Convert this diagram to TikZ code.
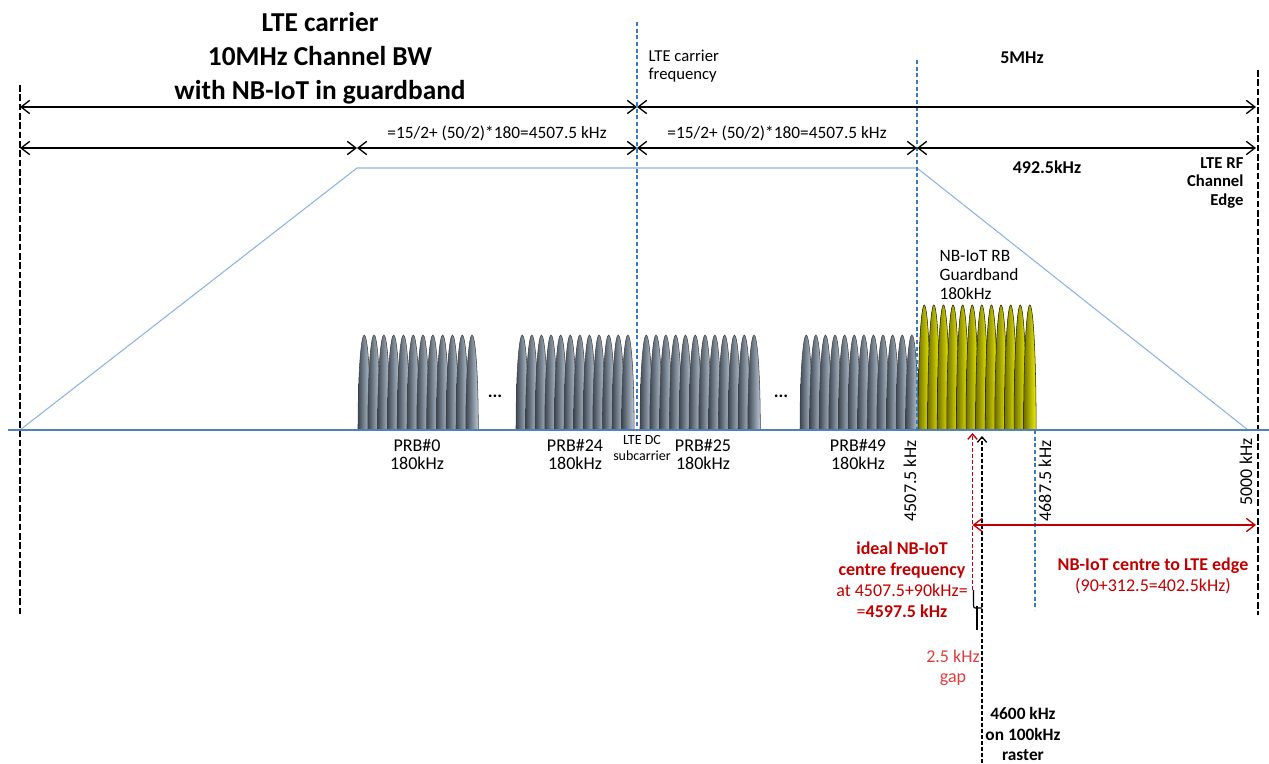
\documentclass[tikz,border=0pt]{standalone}
\usepackage{fontspec}
\setmainfont{Carlito}
\usetikzlibrary{arrows.meta,positioning}

\definecolor{ltered}{HTML}{C00000}
\definecolor{gapred}{HTML}{E03C3C}
\definecolor{dashblue}{HTML}{3A78C2}
\definecolor{trapblue}{HTML}{8DB3E2}
\definecolor{axisblue}{HTML}{4F81BD}
\definecolor{greydark}{HTML}{3E4752}
\definecolor{greylight}{HTML}{BCCAD8}
\definecolor{yeldark}{HTML}{6E6E00}
\definecolor{yellight}{HTML}{F2F200}

\begin{document}
\begin{tikzpicture}[x=0.75pt, y=-0.75pt,
  every node/.style={inner sep=1pt, font=\fontsize{13}{15}\selectfont},
  dimarrow/.style={{Straight Barb[length=6.5pt,width=10pt]}-{Straight Barb[length=6.5pt,width=10pt]}, line width=1pt},
  redarrow/.style={{Straight Barb[length=6.5pt,width=10pt]}-{Straight Barb[length=6.5pt,width=10pt]}, line width=1pt, ltered},
  uparrow/.style={-{Straight Barb[length=4pt,width=7pt]}, line width=1pt, dash pattern=on 3pt off 1.5pt},
  edgeline/.style={line width=2.2pt, dash pattern=on 5pt off 2pt},
  bluedash/.style={dashblue, line width=0.9pt, dash pattern=on 3pt off 2pt},
  trap/.style={trapblue, line width=0.8pt},
  axisline/.style={axisblue, line width=1pt},
  greybump/.style={left color=greydark, right color=greylight, draw=black!75, line width=0.4pt},
  yelbump/.style={left color=yeldark, right color=yellight, draw=black!70!yeldark, line width=0.4pt},
  bold/.style={font=\fontsize{13.5}{16}\selectfont\bfseries},
  prblbl/.style={align=center, font=\fontsize{13.5}{13.5}\selectfont}
]
\useasboundingbox (0,0) rectangle (1269,763);

% -------- channel edges --------
\coordinate (edgeLtop) at (20,85);
\coordinate (edgeLbot) at (20,615);
\coordinate (edgeRtop) at (1258,70);
\coordinate (edgeRbot) at (1258,615);
\draw[edgeline] (edgeLtop) -- (edgeLbot);
\draw[edgeline] (edgeRtop) -- (edgeRbot);

% -------- trapezoid (spectrum mask) --------
\coordinate (tA) at (20,430);
\coordinate (tB) at (357,168);
\coordinate (tC) at (917,168);
\coordinate (tD) at (1248,430);
\draw[trap] (tA) -- (tB) -- (tC) -- (tD);

% -------- subcarriers --------
\foreach \xs/\dx in {358/9.8, 516/9.6, 640/9.8, 800/9.6} {
  \foreach \i in {0,...,11} {
    \pgfmathsetmacro\xa{\xs+\i*\dx}
    \path[greybump] (\xa,430) .. controls (\xa,370) and (\xa+3.2,335) .. (\xa+6.25,335)
      .. controls (\xa+9.3,335) and (\xa+12.5,370) .. (\xa+12.5,430) -- cycle;
  }
}
\foreach \i in {0,...,11} {
  \pgfmathsetmacro\xa{918+\i*9.6}
  \path[yelbump] (\xa,430) .. controls (\xa,350) and (\xa+3.2,305) .. (\xa+6.25,305)
    .. controls (\xa+9.3,305) and (\xa+12.5,350) .. (\xa+12.5,430) -- cycle;
}
\node[bold] (dots1) at (495,396) {...};
\node[bold] (dots2) at (781,396) {...};

% -------- frequency axis --------
\coordinate (axL) at (8,430);
\coordinate (axR) at (1269,430);
\draw[axisline] (axL) -- (axR);

% -------- blue markers --------
\coordinate (fcTop) at (637,22);
\coordinate (fcBot) at (637,428);
\coordinate (gbTop) at (917,60);
\coordinate (gbBot) at (917,430);
\coordinate (nbTop) at (1035,430);
\coordinate (nbBot) at (1035,610);
\draw[bluedash] (fcTop) -- (fcBot);
\draw[bluedash] (gbTop) -- (gbBot);
\draw[bluedash] (nbTop) -- (nbBot);

% -------- dimension arrows --------
\coordinate (r1L) at (20,107);
\coordinate (r1C) at (637,107);
\coordinate (r1R) at (1256,107);
\draw[dimarrow] (r1L) -- (r1C);
\draw[dimarrow] (r1C) -- (r1R);

\coordinate (r2L) at (20,148);
\coordinate (r2A) at (357,148);
\coordinate (r2C) at (637,148);
\coordinate (r2B) at (917,148);
\coordinate (r2R) at (1256,148);
\draw[dimarrow] (r2L) -- (r2A);
\draw[dimarrow] (r2A) -- (r2C);
\draw[dimarrow] (r2C) -- (r2B);
\draw[dimarrow] (r2B) -- (r2R);

% -------- top labels --------
\node[font=\fontsize{20.5}{25.5}\selectfont\bfseries, align=center] (title) at (320,58)
  {LTE carrier\\10MHz Channel BW\\with NB-IoT in guardband};
\node[anchor=west, align=left, font=\fontsize{12.5}{13.5}\selectfont] (fclbl) at (647,66)
  {LTE carrier\\frequency};
\node[bold] (bw5) at (1022,58) {5MHz};
\node (half1) at (497,133) {=15/2+ (50/2)*180=4507.5 kHz};
\node (half2) at (777,133) {=15/2+ (50/2)*180=4507.5 kHz};
\node[bold] (gbw) at (1047,167) {492.5kHz};
\node[anchor=east, align=right, font=\fontsize{12.5}{14}\selectfont\bfseries] (rfedge) at (1245,183)
  {LTE RF\\Channel\\Edge};
\node[anchor=west, align=left, font=\fontsize{13}{14.5}\selectfont] (nbrb) at (938,275)
  {NB-IoT RB\\Guardband\\180kHz};

% -------- PRB labels --------
\node[prblbl] (prb0) at (417,454) {PRB\#0\\180kHz};
\node[prblbl] (prb24) at (575,454) {PRB\#24\\180kHz};
\node[align=center, font=\fontsize{10.5}{12}\selectfont] (dc) at (642,448) {LTE DC\\subcarrier};
\node[prblbl] (prb25) at (703,454) {PRB\#25\\180kHz};
\node[prblbl] (prb49) at (858,454) {PRB\#49\\180kHz};

% -------- frequency marks --------
\node[rotate=90, font=\fontsize{13.5}{15}\selectfont] (f1) at (910,481) {4507.5 kHz};
\node[rotate=90, font=\fontsize{13.5}{15}\selectfont] (f2) at (1045,481) {4687.5 kHz};
\node[rotate=90, font=\fontsize{13.5}{15}\selectfont] (f3) at (1246,472) {5000 kHz};

% -------- NB-IoT centre and raster --------
\coordinate (ctrBot) at (972.5,590);
\coordinate (ctrTop) at (972.5,433);
\coordinate (rasBot) at (982,763);
\coordinate (rasTop) at (982,436);
\draw[uparrow, ltered] (ctrBot) -- (ctrTop);
\draw[uparrow] (rasBot) -- (rasTop);
\coordinate (ctrMid) at (972.5,525);
\coordinate (edgeMid) at (1256,525);
\draw[redarrow] (ctrMid) -- (edgeMid);

% gap bracket
\coordinate (gapL) at (973.5,590);
\coordinate (gapR) at (982,608);
\coordinate (gapTip) at (977,630);
\draw[line width=0.9pt] (gapL) -- (973.5,602) .. controls (973.5,608) .. (977,608) -- (gapR);
\draw[line width=0.9pt] (977,606) -- (gapTip);

\node[align=center, ltered, font=\fontsize{13.5}{15.75}\selectfont] (ideal) at (902,580)
  {\textbf{ideal NB-IoT}\\\textbf{centre frequency}\\at 4507.5+90kHz=\\=\textbf{4597.5 kHz}};
\node[align=center, ltered, font=\fontsize{13.5}{15.75}\selectfont] (toedge) at (1153,576)
  {\textbf{NB-IoT centre to LTE edge}\\(90+312.5=402.5kHz)};
\node[align=center, gapred, font=\fontsize{13.5}{15}\selectfont] (gap) at (953,668) {2.5 kHz\\gap};
\node[align=center, font=\fontsize{13}{15.4}\selectfont\bfseries] (raster) at (1023,734)
  {4600 kHz\\on 100kHz\\raster};

\end{tikzpicture}
\end{document}
